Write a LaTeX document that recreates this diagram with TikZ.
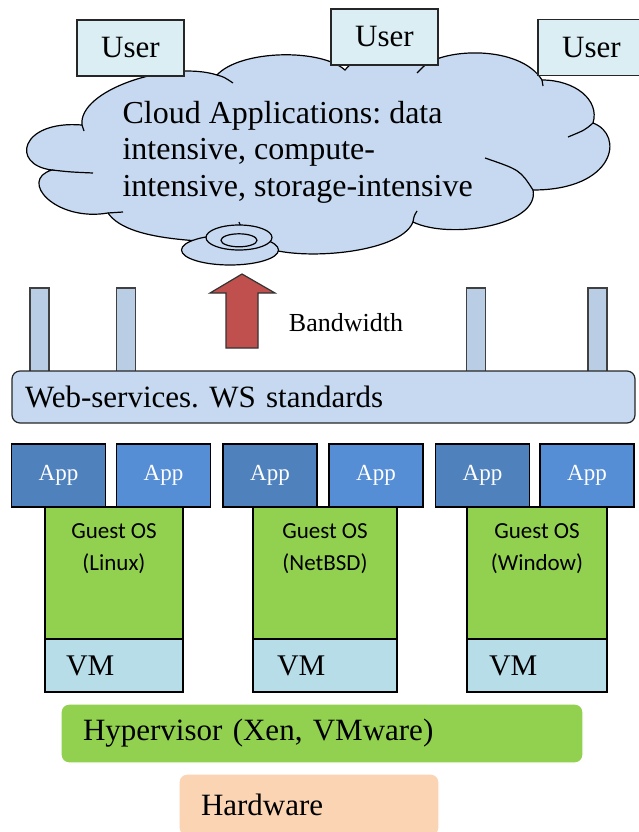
\documentclass[tikz,border=0pt]{standalone}
\usepackage{fontspec}
\setmainfont{Liberation Serif}
\newfontfamily\calibri{Carlito}
\usepackage{tikz}
\usetikzlibrary{arrows,positioning,shapes.geometric}
\definecolor{usercol}{HTML}{DBEEF4}
\definecolor{cloudcol}{HTML}{C6D9F1}
\definecolor{pillarcol}{HTML}{B9CDE5}
\definecolor{appdark}{HTML}{4F81BD}
\definecolor{applight}{HTML}{558ED5}
\definecolor{oscol}{HTML}{92D050}
\definecolor{vmcol}{HTML}{B7DDE8}
\definecolor{hwcol}{HTML}{FBD4B4}
\definecolor{arrowcol}{HTML}{C0504D}
\frenchspacing
\begin{document}
\begin{tikzpicture}[x=1pt,y=-1pt,line width=1.2pt,
user/.style={shape=rectangle,draw=black!85,fill=usercol,minimum width=107pt,minimum height=56pt,font=\fontsize{31}{36}\selectfont},
disk/.style={shape=ellipse,draw=black,fill=cloudcol,inner sep=0pt},
pillar/.style={shape=rectangle,draw=black!75,fill=pillarcol,minimum width=19pt,minimum height=84pt,inner sep=0pt},
app/.style={shape=rectangle,draw=black,minimum width=94pt,minimum height=63pt,text=white,font=\fontsize{23}{27}\selectfont},
guest/.style={shape=rectangle,draw=black,fill=oscol,minimum height=132pt},
ostext/.style={align=center,inner sep=0pt,font=\calibri\fontsize{23}{32}\selectfont},
vm/.style={shape=rectangle,draw=black,fill=vmcol,minimum height=53pt,text width=96pt,inner xsep=21pt,align=left,font=\fontsize{30}{34}\selectfont},
layer/.style={shape=rectangle,rounded corners=8pt,draw=white,align=left,inner xsep=22pt,font=\fontsize{31}{36}\selectfont}]
\useasboundingbox (0,0) rectangle (638,832);
\draw[fill=cloudcol] (82,125) .. controls (78,90) and (170,60) .. (217,75) .. controls (240,50) and (320,48) .. (345,70) .. controls (360,50) and (410,45) .. (424,66) .. controls (445,48) and (520,45) .. (542,80) .. controls (575,80) and (600,100) .. (593,123) .. controls (625,135) and (615,190) .. (533,190) .. controls (540,225) and (450,240) .. (413,222) .. controls (400,255) and (290,262) .. (260,245) .. controls (220,240) and (130,245) .. (108,213) .. controls (55,222) and (18,180) .. (52,170) .. controls (10,165) and (20,120) .. cycle;
\draw (217,75) .. controls (224,77) .. (233,83);
\draw (424,66) .. controls (420,69) .. (417,73);
\draw (542,80) -- (543,86);
\draw (593,123) .. controls (585,130) .. (568,137);
\draw (533,190) .. controls (520,170) .. (485,158);
\draw (413,222) .. controls (414,216) .. (417,211);
\draw (108,213) .. controls (115,213) .. (123,212);
\draw (52,170) .. controls (70,172) .. (93,173);
\draw (82,125) -- (84,131);
\draw (239,222) -- (241,227);
\node[align=left,inner sep=0pt,font=\fontsize{32}{36.5}\selectfont,anchor=west] (5) at (122,152) {Cloud Applications: data\\intensive, compute-\\intensive, storage-intensive};
\node[user] (1) at (130.5,48) {User};
\node[user] (2) at (384.5,37) {User};
\node[user] (3) at (591.5,47.5) {User};
\node[disk,minimum width=97pt,minimum height=30pt] (6) at (230,250) {};
\node[disk,minimum width=66pt,minimum height=25pt] (7) at (239,237.5) {};
\node[disk,minimum width=36pt,minimum height=13pt] (8) at (239,240.3) {};
\draw[draw=black!80,fill=arrowcol] (226,348) -- (226,293) -- (210,293) -- (242,274) -- (275,293) -- (258,293) -- (258,348) -- cycle;
\node[font=\fontsize{26}{30}\selectfont] (10) at (346,323) {Bandwidth};
\node[pillar] (11) at (39.5,330) {};
\node[pillar] (12) at (126,330) {};
\node[pillar] (13) at (476,330) {};
\node[pillar] (14) at (597.5,330) {};
\node[layer,draw=black!85,fill=cloudcol,minimum height=52pt,text width=597pt,inner xsep=13pt] (15) at (323.5,397) {Web-services. WS standards};
\node[app,fill=appdark] (16) at (58.5,475.5) {App};
\node[app,fill=applight] (17) at (163.5,475.5) {App};
\node[app,fill=appdark] (18) at (270,475.5) {App};
\node[app,fill=applight] (19) at (376,475.5) {App};
\node[app,fill=appdark] (20) at (482.5,475.5) {App};
\node[app,fill=applight] (21) at (587,475.5) {App};
\node[guest,minimum width=138pt] (22) at (114,573) {};
\node[guest,minimum width=144pt] (23) at (325,573) {};
\node[guest,minimum width=140pt] (24) at (537,573) {};
\node[ostext,anchor=north] (25) at (114,523) {Guest OS\\(Linux)};
\node[ostext,anchor=north] (26) at (325,523) {Guest OS\\(NetBSD)};
\node[ostext,anchor=north] (27) at (537,523) {Guest OS\\(Window)};
\node[vm,minimum width=138pt] (28) at (114,665.5) {VM};
\node[vm,minimum width=144pt] (29) at (325,665.5) {VM};
\node[vm,minimum width=140pt] (30) at (537,665.5) {VM};
\node[layer,fill=oscol,minimum height=59pt,text width=478pt] (31) at (322,733.5) {Hypervisor (Xen, VMware)};
\node[layer,fill=hwcol,minimum height=62pt,text width=216pt] (32) at (309,805) {Hardware};
\end{tikzpicture}
\end{document}
